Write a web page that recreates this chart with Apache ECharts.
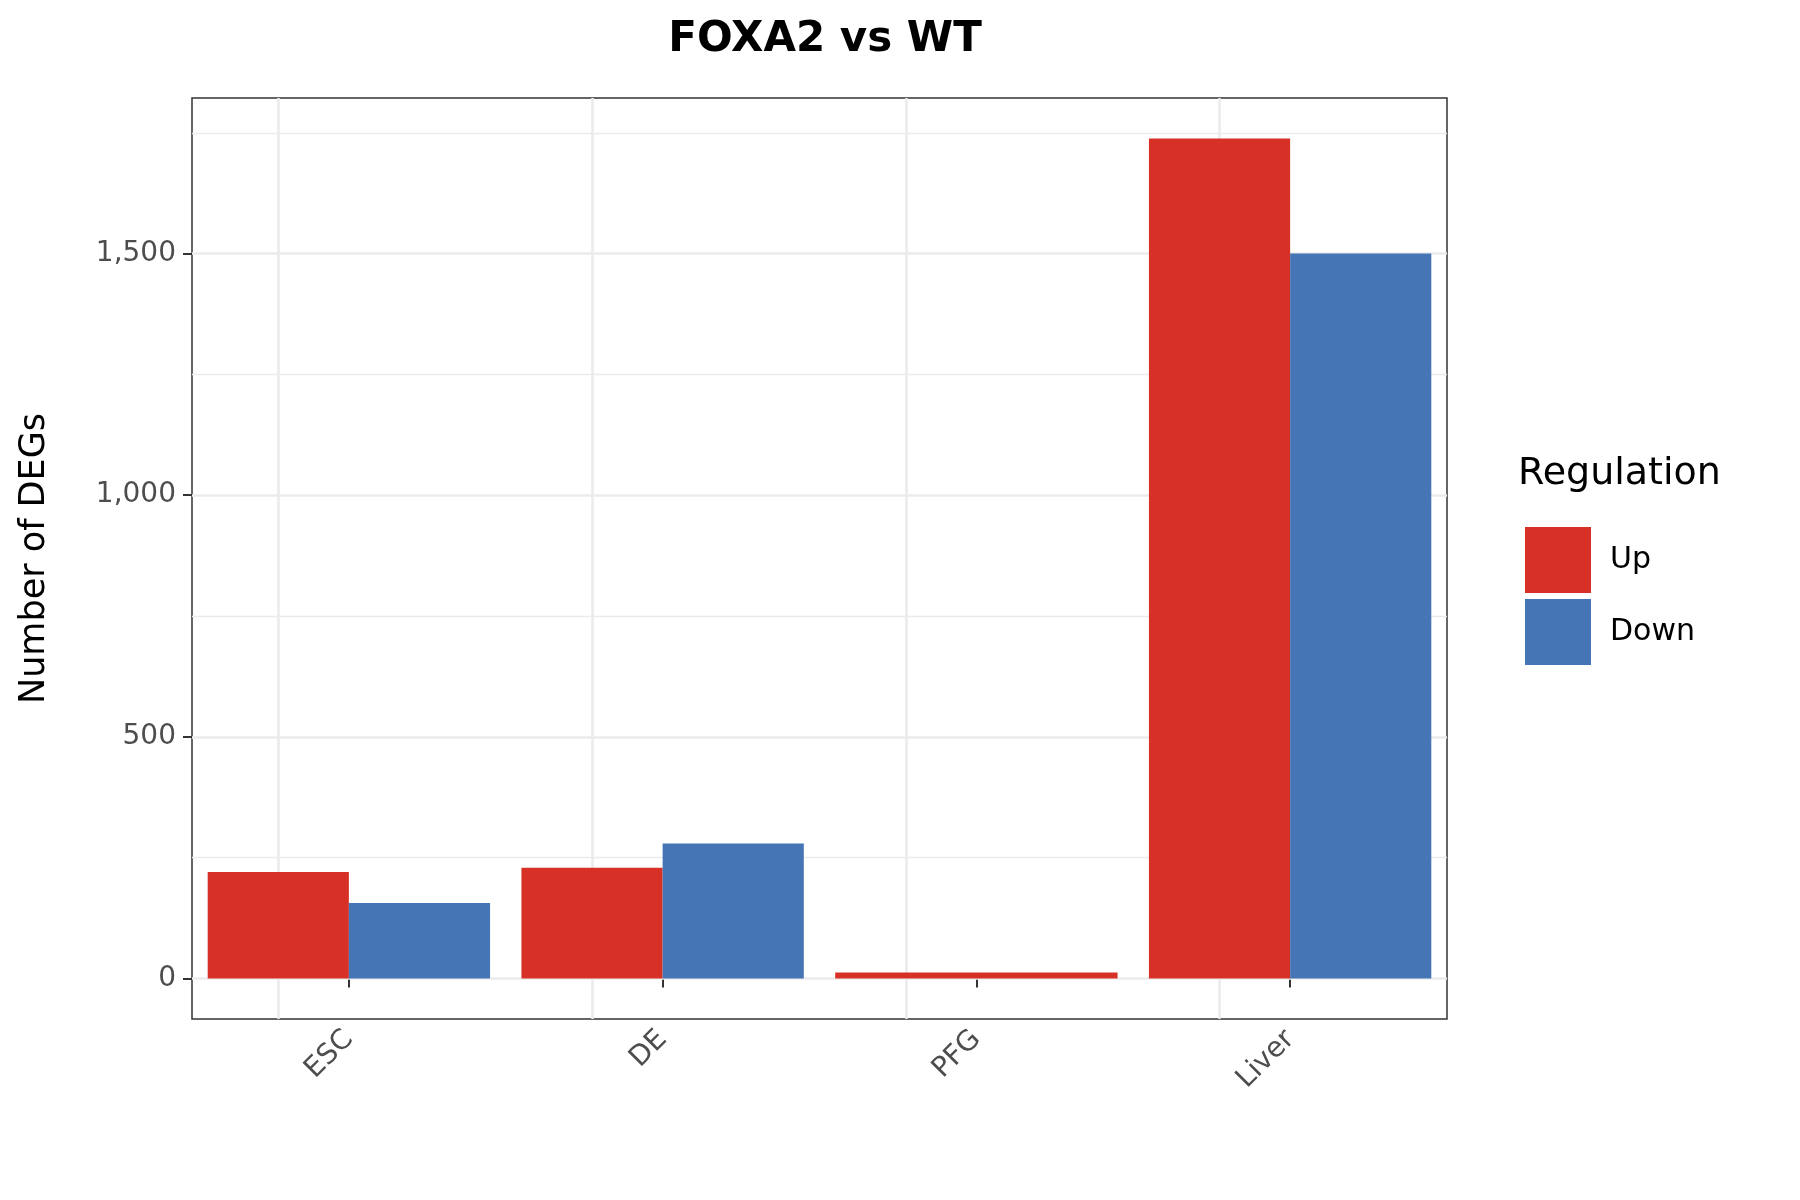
<!DOCTYPE html>
<html>
<head>
<meta charset="utf-8">
<script src="https://cdn.jsdelivr.net/npm/echarts@6/dist/echarts.min.js"></script>
<style>html,body{margin:0;background:#fff}#c{width:1800px;height:1200px}</style>
</head>
<body>
<div id="c"></div>
<script>
var categories = ['ESC', 'DE', 'PFG', 'Liver'];
var upValues = [220, 229, '-', 1738];
var downValues = [156, 279, '-', 1500];
// PFG has only Up, so ggplot draws it full width
var singleUp = ['-', '-', 12, '-'];
var majorTicks = [0, 500, 1000, 1500];
var minorTicks = [250, 750, 1250, 1750];

var font = 'DejaVu Sans';
var chart = echarts.init(document.getElementById('c'));

var gridLines = [];
minorTicks.forEach(function (v) {
  gridLines.push({ yAxis: v, lineStyle: { color: '#ebebeb', width: 1.3, type: 'solid' } });
});
majorTicks.forEach(function (v) {
  gridLines.push({ yAxis: v, lineStyle: { color: '#ebebeb', width: 2.6, type: 'solid' } });
});
categories.forEach(function (c) {
  gridLines.push({ xAxis: c, lineStyle: { color: '#ebebeb', width: 2.6, type: 'solid' } });
});

chart.setOption({
  animation: false,
  title: {
    text: 'FOXA2 vs WT', left: 820, top: 14, textAlign: 'center',
    textStyle: { fontFamily: font, fontSize: 42, fontWeight: 'bold', color: '#000' }
  },
  grid: { left: 192, right: 353, top: 98, bottom: 181, show: true, borderColor: '#333', borderWidth: 1.5, containLabel: false },
  legend: {
    data: ['Up', 'Down'], orient: 'vertical', left: 1520, top: 522, itemGap: 6,
    itemWidth: 66, itemHeight: 66, icon: 'rect',
    textStyle: { fontFamily: font, fontSize: 30, color: '#000', padding: [0, 0, 0, 14] }
  },
  graphic: [{
    type: 'text', left: 1518, top: 455,
    style: { text: 'Regulation', font: '38px "DejaVu Sans"', fill: '#000' }
  }],
  xAxis: [{
    type: 'category', data: categories,
    axisLine: { show: false },
    axisTick: { show: true, alignWithLabel: true, length: 9, lineStyle: { color: '#333', width: 2 } },
    axisLabel: { rotate: 45, margin: 16, fontFamily: font, fontSize: 28, color: '#4d4d4d' },
    splitLine: { show: false }
  }, {
    type: 'category', data: categories, show: false
  }],
  yAxis: {
    type: 'value', min: -84, max: 1822,
    name: 'Number of DEGs', nameLocation: 'middle', nameGap: 140, nameRotate: 90,
    nameTextStyle: { fontFamily: font, fontSize: 35, color: '#000' },
    axisLine: { show: false },
    axisTick: { show: true, length: 9, customValues: majorTicks, lineStyle: { color: '#333', width: 2 } },
    axisLabel: { customValues: majorTicks, fontFamily: font, fontSize: 28, color: '#4d4d4d', margin: 16 },
    splitLine: { show: false }
  },
  series: [{
    name: 'Up', type: 'bar', data: upValues, barGap: '0%', barCategoryGap: '10%',
    itemStyle: { color: '#d73027' }, z: 3,
    markLine: { silent: true, symbol: 'none', label: { show: false }, data: gridLines, z: 1 }
  }, {
    name: 'Down', type: 'bar', data: downValues, barGap: '0%', barCategoryGap: '10%',
    itemStyle: { color: '#4575b4' }, z: 3
  }, {
    name: 'Up', type: 'bar', xAxisIndex: 1, data: singleUp, barWidth: '90%',
    itemStyle: { color: '#d73027' }, z: 3
  }]
});
</script>
</body>
</html>
